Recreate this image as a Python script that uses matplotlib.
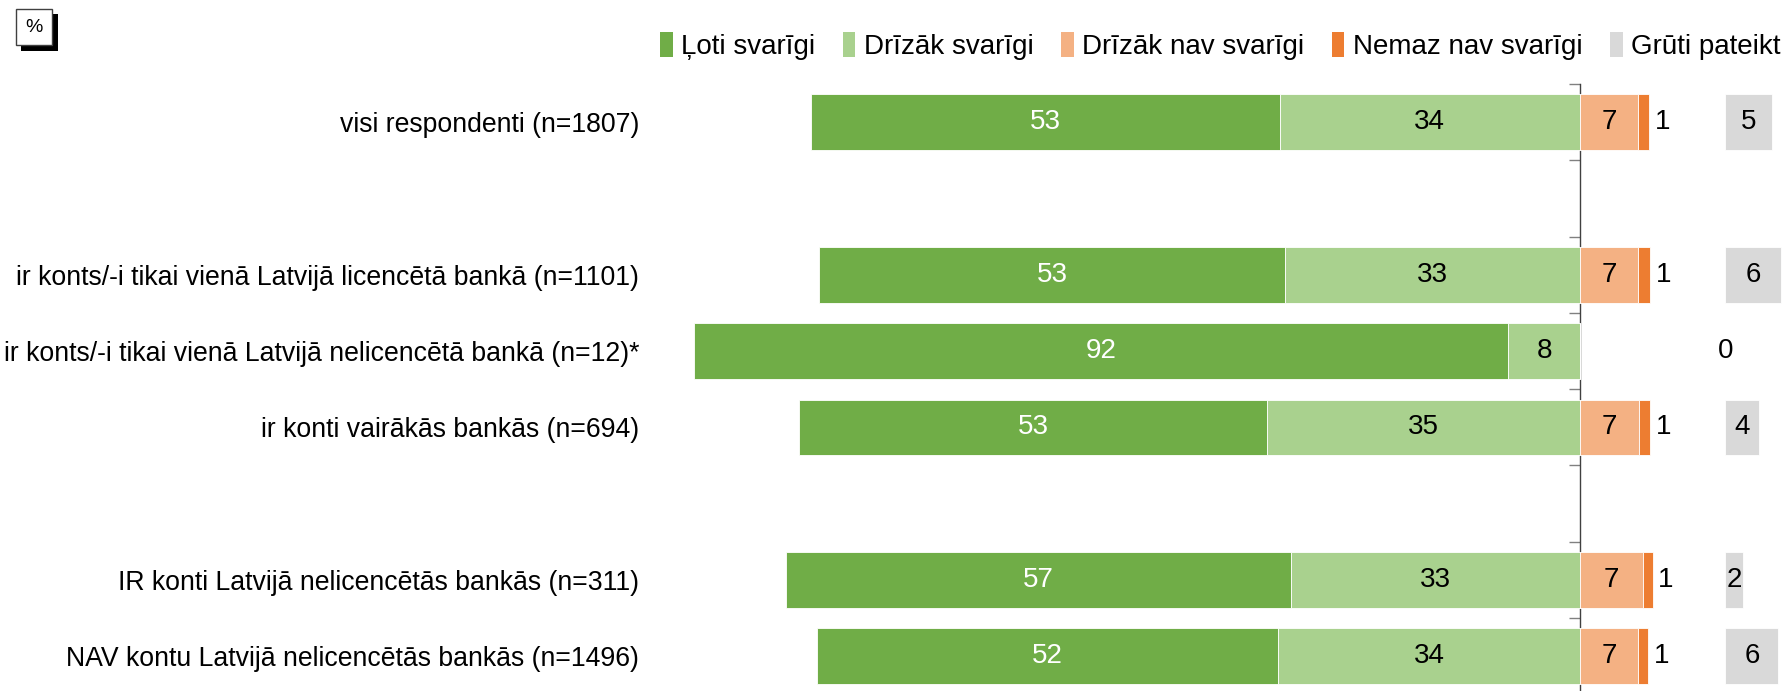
import matplotlib.pyplot as plt
import matplotlib.patheffects as pe
from matplotlib.patches import Patch
import numpy as np

plt.rcParams['font.family'] = ['Liberation Sans', 'DejaVu Sans']

categories = [
    "visi respondenti (n=1807)",
    "ir konts/-i tikai vienā Latvijā licencētā bankā (n=1101)",
    "ir konts/-i tikai vienā Latvijā nelicencētā bankā (n=12)*",
    "ir konti vairākās bankās (n=694)",
    "IR konti Latvijā nelicencētās bankās (n=311)",
    "NAV kontu Latvijā nelicencētās bankās (n=1496)",
]
series_names = ["Ļoti svarīgi", "Drīzāk svarīgi", "Drīzāk nav svarīgi", "Nemaz nav svarīgi", "Grūti pateikt"]

loti = [52.9, 52.6, 91.9, 52.9, 57.0, 52.0]
drizak = [33.9, 33.3, 8.1, 35.3, 32.6, 34.1]
drizak_nav = [6.6, 6.6, 0.0, 6.7, 7.1, 6.6]
nemaz = [1.2, 1.3, 0.0, 1.2, 1.1, 1.1]
gruti = [5.3, 6.3, 0.0, 3.8, 2.0, 6.0]

# layout: empty slots after first and fourth group
y_pos = np.array([0, 2, 3, 4, 6, 7])
n_slots = 8
colors = ["#70AD47", "#A9D18E", "#F4B183", "#ED7D31", "#D9D9D9"]
GRUTI_START = 16.4
FS = 20
LABEL_FS = 19.2

fig = plt.figure(figsize=(17.88, 6.91), dpi=100)
ax = fig.add_axes([660 / 1788, 0, 1 - 660 / 1788, 1 - 84 / 691])

xmin, xmax = (660 - 1580) / 8.86, (1788 - 1580) / 8.86
ax.set_xlim(xmin, xmax)
ax.set_ylim(-0.5 + 607 / 76.3, -0.5)

h = 0.73
loti = np.array(loti); drizak = np.array(drizak)
drizak_nav = np.array(drizak_nav); nemaz = np.array(nemaz); gruti = np.array(gruti)

kw = dict(height=h, edgecolor="white", linewidth=0.6)
ax.barh(y_pos, -loti, left=-drizak, color=colors[0], **kw)
ax.barh(y_pos, -drizak, color=colors[1], **kw)
ax.barh(y_pos, drizak_nav, color=colors[2], **kw)
ax.barh(y_pos, nemaz, left=drizak_nav, color=colors[3], **kw)
ax.barh(y_pos, gruti, left=GRUTI_START, color=colors[4], **kw)

for i, y in enumerate(y_pos):
    ax.text(-drizak[i] - loti[i] / 2, y, f"{loti[i]:.0f}", color="white",
            ha="center", va="center", fontsize=FS)
    ax.text(-drizak[i] / 2, y, f"{drizak[i]:.0f}", color="black",
            ha="center", va="center", fontsize=FS)
    if drizak_nav[i] > 0:
        ax.text(drizak_nav[i] / 2, y, f"{drizak_nav[i]:.0f}", color="black",
                ha="center", va="center", fontsize=FS)
    if nemaz[i] > 0:
        ax.text(drizak_nav[i] + nemaz[i] + 1.5, y, f"{nemaz[i]:.0f}", color="black",
                ha="center", va="center", fontsize=FS)
    ax.text(GRUTI_START + gruti[i] / 2, y, f"{gruti[i]:.0f}", color="black",
            ha="center", va="center", fontsize=FS)

ax.set_yticks(y_pos)
ax.set_yticklabels(categories, fontsize=LABEL_FS)
ax.tick_params(axis="y", length=0, pad=15)
ax.set_xticks([])
for s in ax.spines.values():
    s.set_visible(False)

# centre axis with ticks between the groups
frac = (0 - xmin) / (xmax - xmin)
sec = ax.secondary_yaxis(frac)
sec.set_yticks(np.arange(n_slots) - 0.5)
sec.set_yticklabels([])
sec.tick_params(direction="in", length=8, width=1, color="#808080")
sec.spines["right"].set_color("#404040")
sec.spines["right"].set_linewidth(1)

handles = [Patch(facecolor=c, edgecolor="none") for c in colors]
fig.legend(handles, series_names, loc="center right", bbox_to_anchor=(1.002, 1 - 46 / 691),
           ncol=5, frameon=False, fontsize=FS, handlelength=0.45, handleheight=1.0,
           handletextpad=0.3, columnspacing=1.0, borderaxespad=0.0)

# "%" box with shadow
t = fig.text(34 / 1788, 1 - 27 / 691, "%", fontsize=14, ha="center", va="center", color="black",
             bbox=dict(boxstyle="square,pad=0.5", fc="white", ec="#404040", lw=1))
t.get_bbox_patch().set_path_effects([
    pe.SimplePatchShadow(offset=(4, -4), shadow_rgbFace="black", alpha=1.0),
    pe.Normal(),
])

fig.savefig("out.png", dpi=100)
